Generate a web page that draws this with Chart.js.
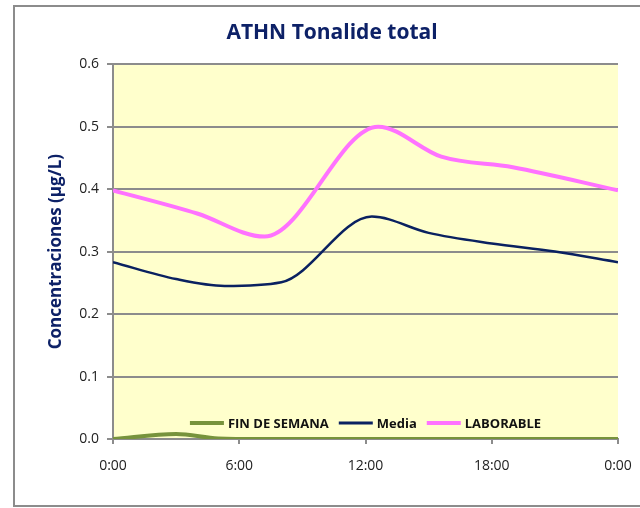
<!DOCTYPE html>
<html>
<head>
<meta charset="utf-8">
<script src="https://cdn.jsdelivr.net/npm/chart.js@4/dist/chart.umd.min.js"></script>
<style>
html,body{margin:0;padding:0;background:#fff;}
#wrap{width:640px;height:508px;position:relative;}
</style>
</head>
<body>
<div id="wrap"><canvas id="c" width="640" height="508"></canvas></div>
<script>
const titleText = "ATHN Tonalide total";
const yAxisTitle = "Concentraciones (µg/L)";
const seriesNames = ["FIN DE SEMANA", "Media", "LABORABLE"];
const finHours = [0, 3, 5, 7, 24];
const finDeSemana = [0.000, 0.008, 0.001, 0.000, 0.000];
const mediaHours = [0, 3, 5.3, 8, 12.3, 15, 18, 21, 24];
const media = [0.283, 0.256, 0.245, 0.251, 0.356, 0.330, 0.313, 0.300, 0.283];
const laborableHours = [0, 4, 7.2, 12.6, 15.6, 19, 24];
const laborable = [0.398, 0.361, 0.324, 0.500, 0.452, 0.435, 0.398];
const xTicks = [0, 6, 12, 18, 24];
const xTickLabels = ["0:00", "6:00", "12:00", "18:00", "0:00"];
const yTicks = [0, 0.1, 0.2, 0.3, 0.4, 0.5, 0.6];

const colors = ["#77933C", "#0A2160", "#FF72FF"];
const widths = [4, 2.5, 4];
const seriesHours = [finHours, mediaHours, laborableHours];
const seriesData = [finDeSemana, media, laborable];

const FONT = "'Open Sans', 'Liberation Sans', sans-serif";

const bgPlugin = {
  id: 'bg',
  beforeDraw(chart) {
    const {ctx, chartArea: a} = chart;
    ctx.save();
    ctx.fillStyle = '#fff';
    ctx.fillRect(0, 0, chart.width, chart.height);
    ctx.fillStyle = '#FFFFCC';
    ctx.fillRect(a.left, a.top, a.right - a.left, a.bottom - a.top);
    ctx.strokeStyle = '#8c8c8c';
    ctx.lineWidth = 2;
    ctx.beginPath();
    ctx.moveTo(700, 6);
    ctx.lineTo(14, 6);
    ctx.lineTo(14, 506);
    ctx.lineTo(700, 506);
    ctx.stroke();
    ctx.restore();
  }
};

const legendPlugin = {
  id: 'inlegend',
  beforeDatasetsDraw(chart) {
    const {ctx, chartArea: a} = chart;
    ctx.save();
    ctx.font = "bold 13px " + FONT;
    ctx.textBaseline = 'middle';
    const lineLen = 34, gap1 = 4, gap2 = 10;
    const items = chart.data.datasets.map(d => ({label: d.label, color: d.borderColor, lw: d.borderWidth, w: ctx.measureText(d.label).width}));
    let total = 0;
    items.forEach((it, i) => { total += lineLen + gap1 + it.w + (i < items.length - 1 ? gap2 : 0); });
    let x = (a.left + a.right) / 2 - total / 2;
    const y = 423;
    items.forEach((it) => {
      ctx.strokeStyle = it.color;
      ctx.lineWidth = Math.max(3, it.lw);
      ctx.beginPath();
      ctx.moveTo(x, y);
      ctx.lineTo(x + lineLen, y);
      ctx.stroke();
      x += lineLen + gap1;
      ctx.fillStyle = '#111';
      ctx.fillText(it.label, x, y + 1);
      x += it.w + gap2;
    });
    ctx.restore();
  }
};

new Chart(document.getElementById('c'), {
  type: 'line',
  data: {
    datasets: seriesNames.map((name, i) => ({
      label: name,
      data: seriesHours[i].map((h, k) => ({x: h, y: seriesData[i][k]})),
      borderColor: colors[i],
      backgroundColor: colors[i],
      borderWidth: widths[i],
      pointRadius: 0,
      cubicInterpolationMode: 'monotone',
      fill: false
    }))
  },
  options: {
    responsive: false,
    animation: false,
    devicePixelRatio: 1,
    layout: {padding: {left: 46, right: 22, top: 0, bottom: 0}},
    plugins: {
      legend: {display: false},
      tooltip: {enabled: false},
      title: {
        display: true,
        text: titleText,
        color: '#0D2167',
        font: {family: FONT, size: 21, weight: 'bold'},
        padding: {top: 20, bottom: 19}
      }
    },
    scales: {
      x: {
        type: 'linear',
        min: 0, max: 24,
        afterBuildTicks(scale) { scale.ticks = xTicks.map(v => ({value: v})); },
        afterFit(scale) { scale.height = 69; scale.paddingRight = 0; scale.paddingLeft = 0; },
        ticks: {
          color: '#222',
          font: {family: FONT, size: 14},
          padding: 14,
          maxRotation: 0,
          callback: (v, i) => xTickLabels[i]
        },
        grid: {drawOnChartArea: false, drawTicks: true, tickLength: 5, color: '#8c8c8c', lineWidth: 2},
        border: {display: true, color: '#8c8c8c', width: 2}
      },
      y: {
        type: 'linear',
        min: 0, max: 0.6,
        afterBuildTicks(scale) { scale.ticks = yTicks.map(v => ({value: v})); },
        afterFit(scale) { scale.width = 67; },
        ticks: {
          color: '#222',
          font: {family: FONT, size: 14},
          padding: 8,
          callback: v => Number(v).toFixed(1)
        },
        grid: {color: '#8c8c8c', lineWidth: 2, tickLength: 6},
        border: {display: true, color: '#8c8c8c', width: 2},
        title: {
          display: true,
          text: yAxisTitle,
          color: '#0D2167',
          font: {family: FONT, size: 17, weight: 'bold'},
          padding: {top: 0, bottom: 0}
        }
      }
    }
  },
  plugins: [bgPlugin, legendPlugin]
});
</script>
</body>
</html>
